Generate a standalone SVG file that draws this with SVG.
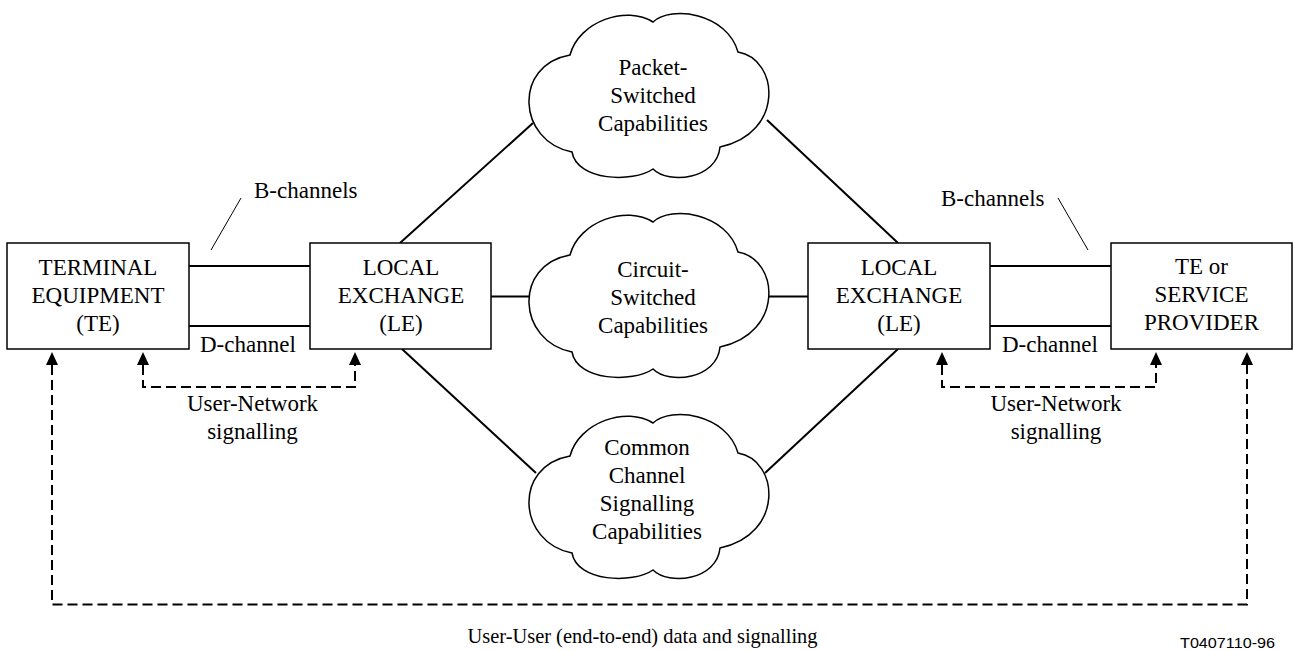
<svg xmlns="http://www.w3.org/2000/svg" width="1293" height="650" viewBox="0 0 1293 650">
  <style>
    .box { fill: #fff; stroke: #000; stroke-width: 1.5; }
    .cloud { fill: #fff; stroke: #000; stroke-width: 1.5; }
    text { font-family: 'Liberation Serif', 'DejaVu Serif', 'Times New Roman', Times, serif; font-size: 23px; fill: #000; }
    .t { text-anchor: middle; }
    .line { stroke: #000; stroke-width: 2; fill: none; }
    .leader { stroke: #000; stroke-width: 1; fill: none; }
    .dash { stroke: #000; stroke-width: 2; fill: none; stroke-dasharray: 10 5; marker-start: url(#arr); marker-end: url(#arr); }
    text.code { font-family: 'Liberation Sans', Arial, sans-serif; font-size: 15px; }
  </style>
  <defs>
    <marker id="arr" viewBox="0 -7 14 14" refX="0" refY="0" markerWidth="14" markerHeight="14" markerUnits="userSpaceOnUse" orient="auto-start-reverse">
      <path d="M0,-6 L13,0 L0,6 z" fill="#000"/>
    </marker>
    <path id="cloudShape" d="M-79,-40 C-70,-74 -22,-90 4,-73 C22,-90 78,-82 89,-43 C130,-36 136,38 71,52 C68,84 20,90 4,74 C-16,88 -72,86 -77,57 C-132,46 -136,-30 -79,-40 Z"/>
  </defs>

  <g id="connectors">
    <line class="line" x1="189" y1="266" x2="310" y2="266"/>
    <line class="line" x1="189" y1="326" x2="310" y2="326"/>
    <line class="line" x1="990" y1="266" x2="1111" y2="266"/>
    <line class="line" x1="990" y1="326" x2="1111" y2="326"/>
    <line class="line" x1="491" y1="296.5" x2="530" y2="296.5"/>
    <line class="line" x1="768" y1="296.5" x2="808" y2="296.5"/>
    <line class="line" x1="400" y1="243" x2="533" y2="123"/>
    <line class="line" x1="898" y1="243" x2="767" y2="120"/>
    <line class="line" x1="402" y1="349" x2="536" y2="473"/>
    <line class="line" x1="898" y1="349" x2="765" y2="473"/>
    <line class="leader" x1="241" y1="198" x2="211" y2="250"/>
    <line class="leader" x1="1058" y1="198" x2="1088" y2="250"/>
    <path class="dash" d="M143,365 V387 H355 V365"/>
    <path class="dash" d="M942,365 V387 H1156 V365"/>
    <path class="dash" d="M52,365 V604.5 H1247 V365"/>
  </g>

  <g id="te">
    <rect class="box" x="7" y="243" width="182" height="106"/>
    <text class="t" x="98" y="275">TERMINAL</text>
    <text class="t" x="98" y="303">EQUIPMENT</text>
    <text class="t" x="98" y="331">(TE)</text>
  </g>

  <g id="le1">
    <rect class="box" x="310" y="243" width="181" height="106"/>
    <text class="t" x="401" y="275">LOCAL</text>
    <text class="t" x="401" y="303">EXCHANGE</text>
    <text class="t" x="401" y="331">(LE)</text>
  </g>

  <g id="le2">
    <rect class="box" x="808" y="243" width="182" height="106"/>
    <text class="t" x="899" y="275">LOCAL</text>
    <text class="t" x="899" y="303">EXCHANGE</text>
    <text class="t" x="899" y="331">(LE)</text>
  </g>

  <g id="tesp">
    <rect class="box" x="1111" y="243" width="181" height="106"/>
    <text class="t" x="1201.5" y="274">TE or</text>
    <text class="t" x="1201.5" y="302">SERVICE</text>
    <text class="t" x="1201.5" y="330">PROVIDER</text>
  </g>

  <g id="packet">
    <use href="#cloudShape" class="cloud" transform="translate(649,95)"/>
    <text class="t" x="653" y="75">Packet-</text>
    <text class="t" x="653" y="103">Switched</text>
    <text class="t" x="653" y="131">Capabilities</text>
  </g>

  <g id="circuit">
    <use href="#cloudShape" class="cloud" transform="translate(649,295)"/>
    <text class="t" x="653" y="277">Circuit-</text>
    <text class="t" x="653" y="305">Switched</text>
    <text class="t" x="653" y="333">Capabilities</text>
  </g>

  <g id="common">
    <use href="#cloudShape" class="cloud" transform="translate(649,496)"/>
    <text class="t" x="647" y="455">Common</text>
    <text class="t" x="647" y="483">Channel</text>
    <text class="t" x="647" y="511">Signalling</text>
    <text class="t" x="647" y="539">Capabilities</text>
  </g>

  <g id="labels">
    <text x="254" y="198">B-channels</text>
    <text x="941" y="206">B-channels</text>
    <text x="200" y="352">D-channel</text>
    <text x="1002" y="352">D-channel</text>
    <text class="t" x="252.5" y="411">User-Network</text>
    <text class="t" x="252.5" y="439">signalling</text>
    <text class="t" x="1056" y="411">User-Network</text>
    <text class="t" x="1056" y="439">signalling</text>
    <text class="t" x="642.5" y="643" style="font-size:22px" textLength="350" lengthAdjust="spacingAndGlyphs">User-User (end-to-end) data and signalling</text>
    <text class="code" x="1180" y="648" textLength="95" lengthAdjust="spacingAndGlyphs">T0407110-96</text>
  </g>
</svg>
